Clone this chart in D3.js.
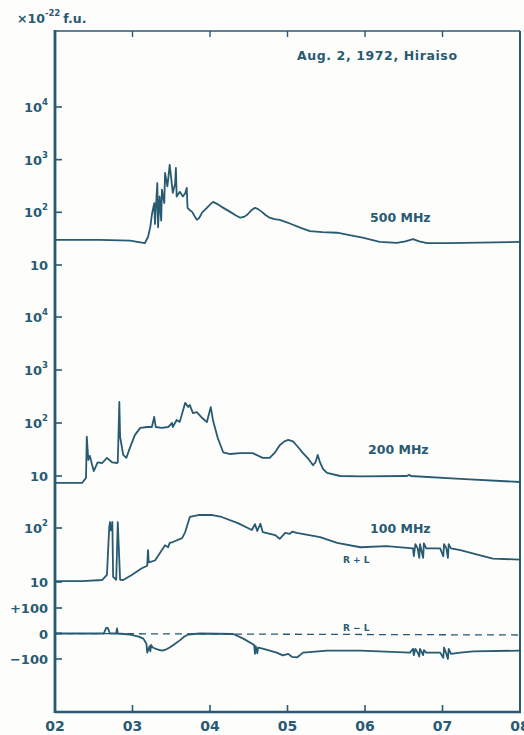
<!DOCTYPE html>
<html>
<head>
<meta charset="utf-8">
<script src="https://cdn.jsdelivr.net/npm/d3@7"></script>
<style>
  body { margin: 0; background: #fdfdfb; }
  text { font-family: "DejaVu Sans", sans-serif; font-weight: bold; fill: #285a72; }
</style>
</head>
<body>
<script>
// time in hours (UT), flux in 10^-22 f.u.
const t500 = [2.00, 2.58, 2.97, 3.10, 3.16, 3.20, 3.23, 3.25, 3.28, 3.29, 3.32, 3.33, 3.35, 3.37, 3.38, 3.41, 3.42, 3.45, 3.46, 3.48, 3.52, 3.55, 3.56, 3.57, 3.61, 3.65, 3.68, 3.70, 3.71, 3.74, 3.77, 3.80, 3.83, 3.86, 3.90, 3.93, 3.96, 4.00, 4.04, 4.09, 4.15, 4.20, 4.26, 4.33, 4.39, 4.44, 4.48, 4.53, 4.58, 4.62, 4.67, 4.72, 4.77, 4.83, 4.90, 5.00, 5.07, 5.18, 5.29, 5.45, 5.64, 5.80, 5.97, 6.19, 6.41, 6.52, 6.62, 6.70, 6.80, 7.06, 7.48, 8.00];
const f500 = [30, 30, 29, 27, 26, 34, 53, 90, 150, 60, 360, 52, 200, 70, 270, 150, 560, 310, 420, 800, 235, 350, 700, 200, 245, 200, 230, 290, 122, 110, 102, 85, 72, 78, 100, 110, 122, 140, 158, 145, 127, 115, 102, 88, 79, 82, 90, 108, 122, 115, 102, 88, 79, 74, 72, 64, 58, 50, 44, 42, 41, 37, 33, 27.5, 26.3, 28, 31, 28, 26, 26, 26.5, 27.5];

const t200 = [2.00, 2.35, 2.40, 2.41, 2.43, 2.45, 2.48, 2.50, 2.55, 2.61, 2.67, 2.74, 2.80, 2.81, 2.83, 2.84, 2.88, 2.92, 2.97, 3.03, 3.10, 3.19, 3.25, 3.28, 3.30, 3.38, 3.46, 3.51, 3.52, 3.57, 3.61, 3.68, 3.72, 3.74, 3.78, 3.83, 3.90, 3.96, 4.01, 4.04, 4.10, 4.17, 4.26, 4.39, 4.55, 4.68, 4.77, 4.84, 4.90, 4.96, 5.01, 5.07, 5.13, 5.20, 5.27, 5.33, 5.36, 5.39, 5.42, 5.46, 5.51, 5.68, 5.94, 6.54, 6.57, 6.59, 7.23, 8.00];
const f200 = [7.4, 7.4, 9.2, 55, 20, 24, 16, 12.4, 18, 17.6, 22, 18, 17.6, 18, 250, 55, 25, 22, 35, 59, 81, 84, 84, 130, 84, 81, 84, 100, 84, 114, 105, 240, 200, 218, 154, 160, 124, 104, 200, 110, 52, 28, 26, 27, 27, 22, 22, 28, 38, 45, 48, 45, 36, 27, 21, 16, 18, 25, 18, 13.5, 11.4, 10, 9.8, 10, 10.6, 10, 8.8, 7.7];

const t100 = [2.00, 2.35, 2.61, 2.67, 2.70, 2.71, 2.72, 2.74, 2.75, 2.79, 2.81, 2.84, 2.88, 2.99, 3.12, 3.19, 3.20, 3.21, 3.29, 3.42, 3.46, 3.48, 3.52, 3.64, 3.68, 3.74, 3.85, 4.03, 4.15, 4.36, 4.54, 4.58, 4.61, 4.65, 4.68, 4.84, 4.90, 4.97, 5.03, 5.06, 5.12, 5.42, 5.64, 5.94, 6.28, 6.58, 6.62, 6.63, 6.65, 6.68, 6.70, 6.71, 6.75, 6.76, 6.79, 6.97, 7.01, 7.02, 7.05, 7.07, 7.08, 7.11, 7.23, 7.45, 7.65, 8.00];
const f100 = [10.4, 10.4, 10.9, 13.5, 104, 129, 90, 129, 12.4, 11, 129, 11, 10.9, 13.5, 18, 20, 39, 23, 25, 48, 44, 53, 55, 65, 84, 160, 174, 174, 160, 123, 92, 118, 88, 120, 84, 74, 63, 81, 78, 86, 81, 68, 53, 44, 46, 42.5, 42, 30, 50, 42, 28, 50, 28, 52, 42, 42, 30, 50, 42, 28, 50, 42, 39, 32, 27, 26];

const tRL = [2.00, 2.63, 2.66, 2.68, 2.71, 2.79, 2.80, 2.81, 2.97, 3.08, 3.14, 3.18, 3.19, 3.22, 3.23, 3.24, 3.26, 3.32, 3.38, 3.43, 3.48, 3.55, 3.61, 3.67, 3.72, 3.87, 4.30, 4.43, 4.57, 4.58, 4.59, 4.61, 4.62, 4.68, 4.86, 4.94, 5.01, 5.06, 5.12, 5.16, 5.20, 5.51, 5.94, 6.58, 6.62, 6.63, 6.65, 6.68, 6.70, 6.71, 6.75, 6.76, 6.79, 6.97, 7.01, 7.02, 7.05, 7.07, 7.08, 7.11, 7.23, 7.40, 8.00];
const vRL = [0, 0, 22, 22, 0, 0, 20, 0, -4, -12, -20, -40, -75, -50, -70, -45, -55, -62, -67, -63, -55, -40, -27, -12, -4, 0, -2, -20, -45, -80, -50, -78, -55, -59, -75, -86, -80, -92, -94, -85, -75, -67, -67, -75, -60, -85, -60, -75, -90, -60, -85, -65, -75, -75, -95, -55, -80, -100, -60, -80, -75, -70, -67];

const hourTicks = [2, 3, 4, 5, 6, 7, 8];
const hourLabels = ["02", "03", "04", "05", "06", "07", "08"];

const col = "#285a72";
const width = 524, height = 735;
const mLeft = 55, mRight = 520, mTop = 31, mBottom = 712;

const svg = d3.select("body").append("svg")
  .attr("width", width).attr("height", height);

const x = d3.scaleLinear().domain([2, 8]).range([mLeft, mRight]);
const y500 = d3.scaleLog().domain([10, 1e4]).range([265, 107]);
const y200 = d3.scaleLog().domain([10, 1e4]).range([476, 317]);
const y100 = d3.scaleLog().domain([10, 100]).range([582, 528]);
const yRL = d3.scaleLinear().domain([-100, 100]).range([659, 608]);

// frame
svg.append("line").attr("x1", mLeft).attr("x2", mRight).attr("y1", mTop).attr("y2", mTop)
  .style("stroke", col).style("stroke-width", 1.6);
svg.append("line").attr("x1", mRight).attr("x2", mRight).attr("y1", mTop).attr("y2", mBottom)
  .style("stroke", col).style("stroke-width", 2);
svg.append("line").attr("x1", mLeft).attr("x2", mRight + 1).attr("y1", mBottom).attr("y2", mBottom)
  .style("stroke", col).style("stroke-width", 2.6);
svg.append("line").attr("x1", mLeft).attr("x2", mLeft).attr("y1", mTop - 1).attr("y2", mBottom + 1)
  .style("stroke", col).style("stroke-width", 2.8);

// x ticks, bottom and top
const innerTicks = hourTicks.slice(1, -1);
svg.selectAll("line.xb").data(innerTicks).enter().append("line")
  .attr("x1", d => x(d)).attr("x2", d => x(d))
  .attr("y1", mBottom).attr("y2", mBottom - 7)
  .style("stroke", col).style("stroke-width", 1.6);
svg.selectAll("line.xt").data(innerTicks).enter().append("line")
  .attr("x1", d => x(d)).attr("x2", d => x(d))
  .attr("y1", mTop).attr("y2", mTop + 6)
  .style("stroke", col).style("stroke-width", 1.4);
svg.selectAll("text.xl").data(hourTicks).enter().append("text")
  .attr("x", d => x(d)).attr("y", 731)
  .attr("text-anchor", "middle").style("font-size", "14px")
  .text((d, i) => hourLabels[i]);

// y ticks
function logTicks(scale, exps) {
  exps.forEach(e => {
    const yy = scale(Math.pow(10, e));
    svg.append("line").attr("x1", mLeft).attr("x2", mLeft + 7)
      .attr("y1", yy).attr("y2", yy)
      .style("stroke", col).style("stroke-width", 1.6);
    const t = svg.append("text").attr("x", 48).attr("y", yy + 5)
      .attr("text-anchor", "end").style("font-size", "13px");
    if (e === 1) {
      t.text("10");
    } else {
      t.append("tspan").text("10");
      t.append("tspan").attr("dy", -7).style("font-size", "8.5px").text(e);
    }
  });
}
logTicks(y500, [1, 2, 3, 4]);
logTicks(y200, [1, 2, 3, 4]);
logTicks(y100, [1, 2]);

[100, 0, -100].forEach(v => {
  const yy = yRL(v);
  svg.append("line").attr("x1", mLeft).attr("x2", mLeft + 7)
    .attr("y1", yy).attr("y2", yy)
    .style("stroke", col).style("stroke-width", 1.6);
  svg.append("text").attr("x", 48).attr("y", yy + 5)
    .attr("text-anchor", "end").style("font-size", "13px")
    .text(v > 0 ? "+" + v : v < 0 ? "\u2212" + (-v) : "0");
});

// zero line for R-L
svg.append("line").attr("x1", mLeft).attr("x2", mRight)
  .attr("y1", yRL(0)).attr("y2", yRL(0) + 1.5)
  .style("stroke", col).style("stroke-width", 1.3)
  .style("stroke-dasharray", "7,5");

// curves
function drawCurve(ts, vs, yScale) {
  const pts = ts.map((t, i) => [t, vs[i]]);
  const line = d3.line().x(d => x(d[0])).y(d => yScale(d[1]));
  svg.append("path").datum(pts).attr("d", line)
    .style("fill", "none").style("stroke", col)
    .style("stroke-width", 1.8).style("stroke-linejoin", "round");
}
drawCurve(t500, f500, y500);
drawCurve(t200, f200, y200);
drawCurve(t100, f100, y100);
drawCurve(tRL, vRL, yRL);

// labels
const unit = svg.append("text").attr("x", 17).attr("y", 23).style("font-size", "12.5px");
unit.append("tspan").text("\u00d710");
unit.append("tspan").attr("dy", -7).style("font-size", "8.5px").text("-22");
unit.append("tspan").attr("dy", 7).attr("dx", 3).text("f.u.");

svg.append("text").attr("x", 297).attr("y", 60).style("font-size", "12.5px")
  .style("letter-spacing", "0.6px")
  .text("Aug. 2, 1972,  Hiraiso");
svg.append("text").attr("x", 370).attr("y", 222).style("font-size", "12.5px").text("500 MHz");
svg.append("text").attr("x", 368).attr("y", 454).style("font-size", "12.5px").text("200 MHz");
svg.append("text").attr("x", 370).attr("y", 533).style("font-size", "12.5px").text("100 MHz");
svg.append("text").attr("x", 343).attr("y", 563).style("font-size", "9px").text("R + L");
svg.append("text").attr("x", 343).attr("y", 631).style("font-size", "9px").text("R \u2212 L");
</script>
</body>
</html>
